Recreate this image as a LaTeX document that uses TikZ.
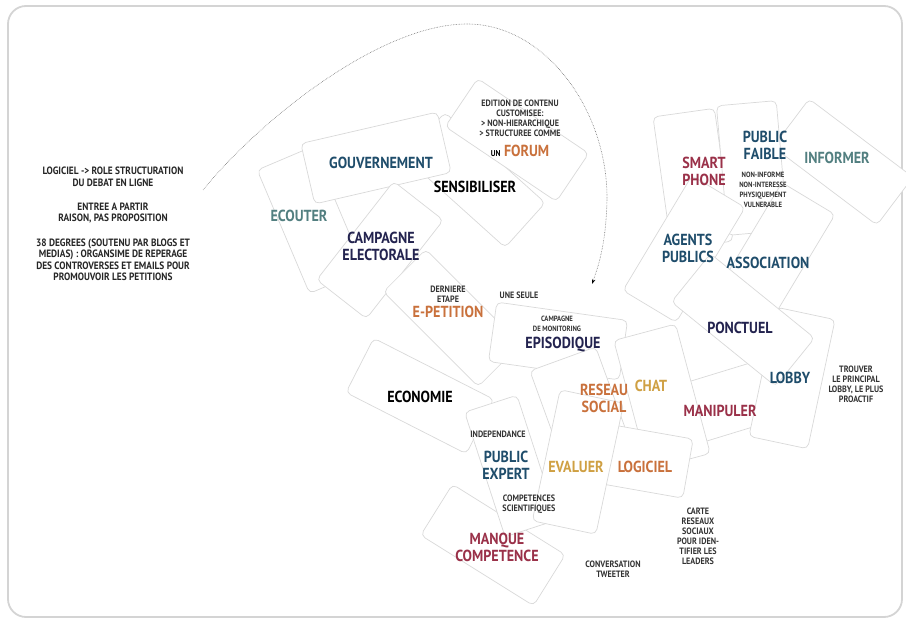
\documentclass[tikz,border=0pt]{standalone}
\usepackage{fontspec}
\setmainfont{PT Sans}[FakeStretch=0.88]
\usetikzlibrary{arrows.meta}
\definecolor{cblue}{HTML}{1F4D6B}
\definecolor{cteal}{HTML}{527F80}
\definecolor{cnavy}{HTML}{23234F}
\definecolor{corange}{HTML}{C9713C}
\definecolor{cgold}{HTML}{CFA043}
\definecolor{cred}{HTML}{9A3149}

\begin{document}
\begin{tikzpicture}[x=1pt,y=-1pt,
		card/.style n args={3}{draw=black!15,line width=0.7pt,fill=white,rounded corners=5pt,inner sep=0pt,minimum width=#1pt,minimum height=#2pt,rotate=#3},
		big/.style={font=\bfseries\fontsize{16}{17}\selectfont,align=center,inner sep=0pt},
		small/.style={font=\bfseries\fontsize{9.2}{10}\selectfont,align=center,inner sep=0pt,text=black!80},
		tiny/.style={font=\bfseries\fontsize{7.6}{10}\selectfont,align=center,inner sep=0pt,text=black!80},
		note/.style={font=\bfseries\fontsize{10.6}{11.6}\selectfont,align=center,inner sep=0pt,text=black!85},
		arcline/.style={densely dotted,black!55,line width=0.6pt,-{Stealth[length=5pt,width=3.5pt,black]}}
		]
		\useasboundingbox (0,0) rectangle (906,620);
		\draw[black!17,line width=1.8pt,rounded corners=18pt] (8,6) rectangle (902,617);

		% cards, bottom to top
		\node[card={134}{60}{-67}] (c-ecouter) at (311,220) {};
		\node[card={135}{60}{-42}] (c-sensib) at (475,180) {};
		\node[card={134}{58}{-34}] (c-forum) at (517,140) {};
		\node[card={140}{62}{13}] (c-gouv) at (376,158) {};
		\node[card={125}{63}{52}] (c-campagne) at (380,250) {};
		\node[card={134}{60}{-45}] (c-petition) at (452,318) {};
		\node[card={135}{61}{-27}] (c-economie) at (420,396) {};
		\node[card={132}{60}{-8}] (c-episod) at (558,341) {};
		\node[card={133}{60}{-32}] (c-manque) at (493,545) {};
		\node[card={70}{130}{20}] (c-reseau) at (585,420) {};
		\node[card={134}{62}{17}] (c-manip) at (735,400) {};
		\node[card={64}{134}{15}] (c-chat) at (662,397) {};
		\node[card={134}{60}{-10}] (c-logiciel) at (622,457) {};
		\node[card={55}{131}{18}] (c-expert) at (511,466) {};
		\node[card={65}{134}{-12}] (c-evaluer) at (578,462) {};
		\node[card={130}{60}{-37}] (c-informer) at (843,162) {};
		\node[card={62}{134}{8}] (c-smart) at (693,179) {};
		\node[card={60}{130}{5}] (c-faible) at (752,168) {};
		\node[card={134}{62}{59}] (c-agents) at (684,249) {};
		\node[card={134}{62}{59}] (c-assoc) at (774,256) {};
		\node[card={60}{132}{-12}] (c-lobby) at (792,378) {};
		\node[card={134}{62}{-39}] (c-ponctuel) at (743,320) {};

		% notes on the left
		\node[note] (notes) at (113,224) {LOGICIEL -> ROLE STRUCTURATION\\DU DEBAT EN LIGNE\\[12.5pt]
			ENTREE A PARTIR\\RAISON, PAS PROPOSITION\\[12.5pt]
			38 DEGREES (SOUTENU PAR BLOGS ET\\MEDIAS) : ORGANSIME DE REPERAGE\\
			DES CONTROVERSES ET EMAILS POUR\\PROMOUVOIR LES PETITIONS};

		% words
		\node[big,text=cblue] (gouv) at (381,163) {GOUVERNEMENT};
		\node[big,text=black] (sensib) at (475,187) {SENSIBILISER};
		\node[small] (edition) at (520,118) {EDITION DE CONTENU\\CUSTOMISEE:\\> NON-HIERARCHIQUE\\> STRUCTUREE COMME};
		\node[big,text=black] (forum) at (520,151) {{\fontsize{8.5}{9}\selectfont UN} \textcolor{corange}{FORUM}};
		\node[big,text=cteal] (ecouter) at (299,216) {ECOUTER};
		\node[big,text=cnavy] (campagne) at (381,246) {CAMPAGNE\\ELECTORALE};
		\node[small] (derniere) at (448,294) {DERNIERE\\ETAPE};
		\node[big,text=corange] (petition) at (448,312) {E-PETITION};
		\node[small] (seule) at (519,295) {UNE SEULE};
		\node[tiny] (monitoring) at (557,324) {CAMPAGNE\\DE MONITORING};
		\node[big,text=cnavy] (episod) at (563,345) {EPISODIQUE};
		\node[big,text=black] (economie) at (420,397) {ECONOMIE};
		\node[big,text=corange] (reseau) at (604,398) {RESEAU\\SOCIAL};
		\node[big,text=cgold] (chat) at (651,386) {CHAT};
		\node[small] (independ) at (498,434) {INDEPENDANCE};
		\node[big,text=cblue] (expert) at (506,465) {PUBLIC\\EXPERT};
		\node[big,text=cgold] (evaluer) at (576,467) {EVALUER};
		\node[big,text=corange] (logiciel) at (645,467) {LOGICIEL};
		\node[small] (scient) at (529,504) {COMPETENCES\\SCIENTIFIQUES};
		\node[big,text=cred] (manque) at (497,547) {MANQUE\\COMPETENCE};
		\node[small] (tweeter) at (613,569) {CONVERSATION\\TWEETER};
		\node[small] (carte) at (698,536) {CARTE\\RESEAUX\\SOCIAUX\\POUR IDEN-\\TIFIER LES\\LEADERS};
		\node[big,text=cred] (smart) at (704,171) {SMART\\PHONE};
		\node[big,text=cblue] (faible) at (765,145) {PUBLIC\\FAIBLE};
		\node[tiny] (vulner) at (763,190) {NON-INFORME\\NON-INTERESSE\\PHYSIQUEMENT\\VULNERABLE};
		\node[big,text=cteal] (informer) at (837,158) {INFORMER};
		\node[big,text=cblue] (agents) at (688,248) {AGENTS\\PUBLICS};
		\node[big,text=cblue] (assoc) at (768,263) {ASSOCIATION};
		\node[big,text=cnavy] (ponctuel) at (740,328) {PONCTUEL};
		\node[big,text=cblue] (lobby) at (790,378) {LOBBY};
		\node[small] (trouver) at (856,384) {TROUVER\\LE PRINCIPAL\\LOBBY, LE PLUS\\PROACTIF};
		\node[big,text=cred] (manip) at (720,411) {MANIPULER};

		% curved arrow
		\coordinate (arcstart) at (203,190);
		\coordinate (arctop) at (467,24);
		\coordinate (arcside) at (607,200);
		\coordinate (arcend) at (592,284);
		\draw[arcline] (arcstart) .. controls (260,120) and (380,24) .. (arctop)
			.. controls (545,24) and (608,110) .. (arcside)
			.. controls (606,240) and (600,262) .. (arcend);
	\end{tikzpicture}
\end{document}
